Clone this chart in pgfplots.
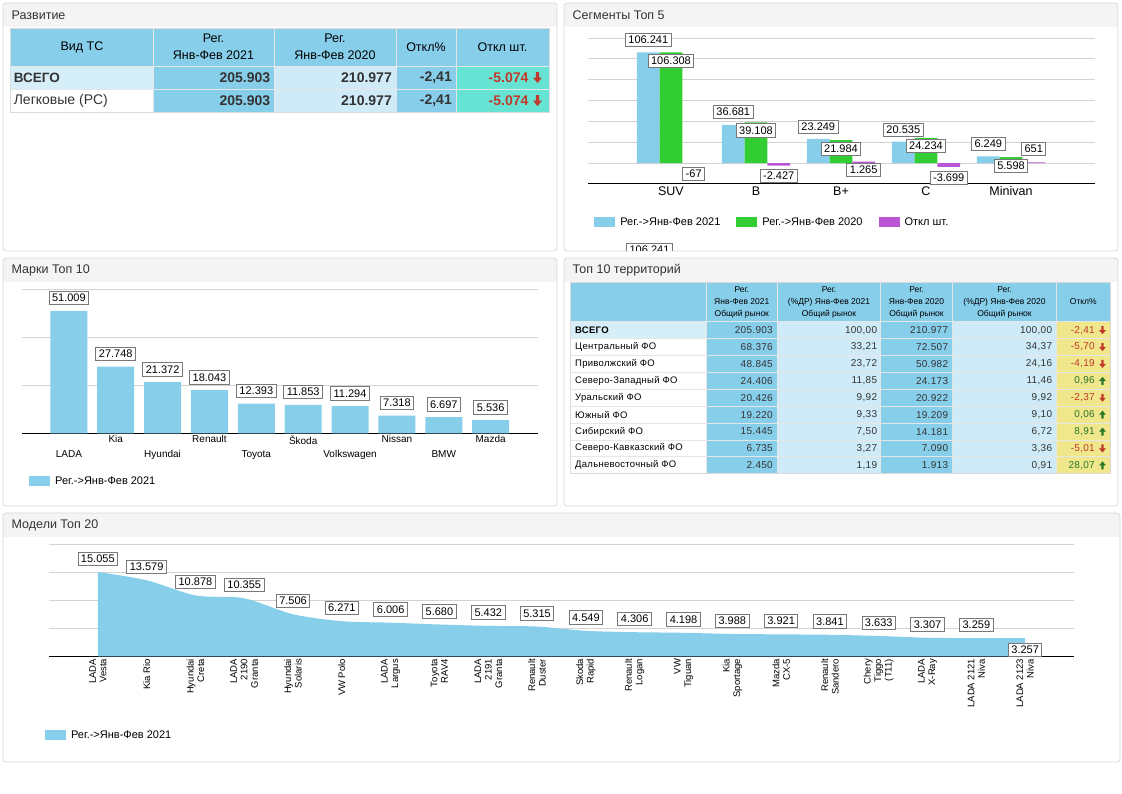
\documentclass[border=0pt]{standalone}
\usepackage{fontspec}
\setmainfont{Liberation Sans}
\newfontfamily\tblfont[LetterSpace=3]{Liberation Sans}
\usepackage{pgfplots}
\pgfplotsset{compat=1.18}

\definecolor{skyb}{RGB}{135,206,235}
\definecolor{limeg}{RGB}{50,205,50}
\definecolor{orch}{RGB}{186,85,211}
\definecolor{lightb}{RGB}{206,235,247}
\definecolor{paleb}{RGB}{214,238,248}
\definecolor{turq}{RGB}{102,227,211}
\definecolor{khak}{RGB}{240,230,140}
\definecolor{panelline}{RGB}{218,218,218}
\definecolor{headgray}{RGB}{244,244,244}
\definecolor{gridg}{RGB}{211,211,211}
\definecolor{sepl}{RGB}{230,230,230}
\definecolor{negred}{RGB}{192,57,43}
\definecolor{posgreen}{RGB}{40,120,40}
\definecolor{lblgray}{RGB}{120,120,120}
\definecolor{txt}{RGB}{51,51,51}

\newcommand\fs[2]{\fontsize{#1}{#2}\selectfont}

\tikzset{
  lbl/.style={draw=lblgray, line width=0.9pt, fill=white, inner xsep=3pt, inner ysep=0pt,
    minimum height=13.5pt, text=black, font=\fs{11}{12}},
  dn/.pic={\fill (-1.4,5)--(1.4,5)--(1.4,0)--(4.2,0)--(0,-5)--(-4.2,0)--(-1.4,0)--cycle;},
  up/.pic={\fill (-1.4,-5)--(1.4,-5)--(1.4,0)--(4.2,0)--(0,5)--(-4.2,0)--(-1.4,0)--cycle;},
}

\pgfplotsset{
  dash/.style={scale only axis, anchor=south west, clip=false,
    axis x line=bottom, axis y line=left, scaled y ticks=false,
    x axis line style={-, black, line width=0.8pt}, y axis line style={draw=none},
    major tick length=0pt, yticklabels={}, ymajorgrids, grid style={gridg, line width=0.7pt},
    /pgf/number format/fixed, /pgf/number format/precision=0, /pgf/number format/1000 sep={.},
    /pgf/number format/assume math mode=true,
    legend style={draw=none, fill=none, inner sep=0pt, font=\fs{11}{13}, anchor=west,
      legend columns=-1, /tikz/every odd column/.append style={column sep=3pt},
      /tikz/every even column/.append style={column sep=14pt}},
    legend cell align=left},
  sq/.style={legend image code/.code={\fill[##1, draw=none] (0pt,-5pt) rectangle (21pt,5pt);}},
}

\newcommand\panel[5]{%
  \begin{scope}
    \clip[rounded corners=3pt] (#1,-#2) rectangle (#3,-#4);
    \fill[white] (#1,-#2) rectangle (#3,-#4);
    \fill[headgray] (#1,-#2) rectangle (#3,-#2-24);
  \end{scope}
  \draw[panelline, rounded corners=3pt, line width=0.8pt] (#1,-#2) rectangle (#3,-#4);
  \node[anchor=west, text=txt, font=\fs{12.5}{14}, inner sep=0pt] at (#1+8.5,-#2-12) {#5};
}

\begin{document}
\begin{tikzpicture}[x=1pt, y=1pt]
\fill[white] (0,0) rectangle (1122,-793);
\path[use as bounding box] (0,0) rectangle (1122,-793);

\panel{3}{3}{557}{251}{Развитие}
\panel{564}{3}{1118}{251}{Сегменты Топ 5}
\panel{3}{258}{557}{506}{Марки Топ 10}
\panel{564}{258}{1118}{506}{Топ 10 территорий}
\panel{3}{513}{1120}{762}{Модели Топ 20}

% ---- Развитие table
\fill[skyb] (10.7,-28) rectangle (549,-66);
\fill[paleb] (10.7,-66) rectangle (153,-89);
\fill[skyb] (153,-66) rectangle (274,-112);
\fill[lightb] (274,-66) rectangle (396,-112);
\fill[skyb] (396,-66) rectangle (456,-112);
\fill[turq] (456,-66) rectangle (549,-112);
\draw[sepl, line width=0.9pt] (153,-28)--(153,-112) (274,-28)--(274,-112) (396,-28)--(396,-112)
  (456,-28)--(456,-112) (10.7,-66)--(549,-66) (10.7,-89)--(549,-89);
\draw[panelline, line width=0.8pt] (10.7,-28) rectangle (549,-112);
\begin{scope}[every node/.style={inner sep=0pt, text=black, font=\fs{12.5}{16.7}, align=center}]
\node at (82,-47) {Вид ТС};
\node at (213.5,-47) {Рег.\\Янв-Фев 2021};
\node at (335,-47) {Рег.\\Янв-Фев 2020};
\node at (426,-47) {Откл\%};
\node at (502.5,-47) {Откл шт.};
\end{scope}
\node[anchor=west, inner sep=0pt, font=\bfseries\fs{13.5}{15}, text=txt] at (13.6,-77.5) {ВСЕГО};
\node[anchor=west, inner sep=0pt, font=\fs{14}{16}, text=txt] at (13.6,-100.5) {Легковые (PC)};
\foreach \yy in {-77.5,-100.5}{
  \begin{scope}[every node/.style={anchor=east, inner sep=0pt, font=\bfseries\fs{14}{16}, text=txt}]
  \node at (270.4,\yy) {205.903};
  \node at (392,\yy) {210.977};
  \node at (452,\yy) {-2,41};
  \node[text=negred] at (528.6,\yy) {-5.074};
  \end{scope}
  \pic[color=negred, scale=1.1] at (537.5,\yy) {dn};
}

% ---- Сегменты Топ 5
\begin{axis}[dash, at={(588pt,-183pt)}, width=507pt, height=145pt,
  xmin=-0.976, xmax=4.988, ymin=-19200, ymax=120000,
  ytick={0,20000,...,120000},
  xtick={0,...,4}, xticklabels={SUV,B,B+,C,Minivan},
  xticklabel style={font=\fs{12.5}{14}, text=black},
  legend style={at={(0.012,-0.269)}}]
\addplot[ybar, bar width=22.7pt, bar shift=-22.7pt, fill=skyb, draw=none, sq]
  coordinates {(0,106241) (1,36681) (2,23249) (3,20535) (4,6249)};
\addlegendentry{Рег.->Янв-Фев 2021}
\addplot[ybar, bar width=22.7pt, bar shift=0pt, fill=limeg, draw=none, sq]
  coordinates {(0,106308) (1,39108) (2,21984) (3,24234) (4,5598)};
\addlegendentry{Рег.->Янв-Фев 2020}
\addplot[ybar, bar width=22.7pt, bar shift=22.7pt, fill=orch, draw=none, sq]
  coordinates {(0,-67) (1,-2427) (2,1265) (3,-3699) (4,651)};
\addlegendentry{Откл шт.}
\node[lbl] at (axis cs:-0.267,118080) {106.241};
\node[lbl] at (axis cs:0,97920) {106.308};
\node[lbl] at (axis cs:0.267,-10560) {-67};
\node[lbl] at (axis cs:0.733,48960) {36.681};
\node[lbl] at (axis cs:1,31200) {39.108};
\node[lbl] at (axis cs:1.267,-12480) {-2.427};
\node[lbl] at (axis cs:1.733,34560) {23.249};
\node[lbl] at (axis cs:2,13440) {21.984};
\node[lbl] at (axis cs:2.267,-6720) {1.265};
\node[lbl] at (axis cs:2.733,31970) {20.535};
\node[lbl] at (axis cs:3,16320) {24.234};
\node[lbl] at (axis cs:3.267,-14400) {-3.699};
\node[lbl] at (axis cs:3.733,18240) {6.249};
\node[lbl] at (axis cs:4,-2880) {5.598};
\node[lbl] at (axis cs:4.267,13440) {651};
\end{axis}
\begin{scope}
\clip (564,-243) rectangle (1118,-250.3);
\node[lbl] at (649.5,-249.7) {106.241};
\end{scope}

% ---- Марки Топ 10
\begin{axis}[dash, at={(22pt,-433.3pt)}, width=515.5pt, height=144pt,
  xmin=-1, xmax=10, ymin=0, ymax=60000, ytick={0,20000,40000,60000},
  xtick={1,3,5,7,9}, xticklabels={Kia,Renault,Škoda,Nissan,Mazda},
  extra x ticks={0,2,4,6,8}, extra x tick labels={LADA,Hyundai,Toyota,Volkswagen,BMW},
  extra x tick style={major tick length=0pt, xticklabel style={yshift=-15pt}},
  xticklabel style={font=\fs{10}{12}, inner sep=2pt, text=black},
  legend style={at={(0.0136,-0.331)}},
  nodes near coords, every node near coord/.append style={lbl, anchor=south, yshift=5.5pt}]
\addplot[ybar, bar width=37pt, fill=skyb, draw=none, sq]
  coordinates {(0,51009) (1,27748) (2,21372) (3,18043) (4,12393) (5,11853) (6,11294) (7,7318) (8,6697) (9,5536)};
\addlegendentry{Рег.->Янв-Фев 2021}
\end{axis}

% ---- Топ 10 территорий
\fill[skyb] (570,-282.7) rectangle (1110,-321.7);
\fill[paleb] (570,-321.7) rectangle (706.3,-338.6);
\fill[skyb] (706.3,-321.7) rectangle (777.3,-473.8);
\fill[lightb] (777.3,-321.7) rectangle (880.7,-473.8);
\fill[skyb] (880.7,-321.7) rectangle (952.3,-473.8);
\fill[lightb] (952.3,-321.7) rectangle (1056.7,-473.8);
\fill[khak] (1056.7,-321.7) rectangle (1110,-473.8);
\foreach \k in {1,...,8}{
  \draw[sepl, line width=0.9pt] (570,{-321.7-16.9*\k})--(1110,{-321.7-16.9*\k});
}
\draw[sepl, line width=0.9pt] (570,-321.7)--(1110,-321.7);
\foreach \xx in {706.3,777.3,880.7,952.3,1056.7}{
  \draw[sepl, line width=0.9pt] (\xx,-282.7)--(\xx,-473.8);
}
\draw[panelline, line width=0.8pt] (570,-282.7) rectangle (1110,-473.8);
\foreach \x/\t in {741.8/{Рег.\\Янв-Фев 2021\\Общий рынок}, 829/{Рег.\\(\%ДР) Янв-Фев 2021\\Общий рынок},
  916.5/{Рег.\\Янв-Фев 2020\\Общий рынок}, 1004.5/{Рег.\\(\%ДР) Янв-Фев 2020\\Общий рынок}, 1083.3/{Откл\%}}
  \node[font=\fs{8.5}{12}, align=center, inner sep=0pt, text=black] at (\x,-302) {\t};
\foreach \n/\a/\b/\c/\d/\e/\s [count=\k from 0] in {
  ВСЕГО/205.903/{100,00}/210.977/{100,00}/{-2,41}/d,
  Центральный ФО/68.376/{33,21}/72.507/{34,37}/{-5,70}/d,
  Приволжский ФО/48.845/{23,72}/50.982/{24,16}/{-4,19}/d,
  Северо-Западный ФО/24.406/{11,85}/24.173/{11,46}/{0,96}/u,
  Уральский ФО/20.426/{9,92}/20.922/{9,92}/{-2,37}/d,
  Южный ФО/19.220/{9,33}/19.209/{9,10}/{0,06}/u,
  Сибирский ФО/15.445/{7,50}/14.181/{6,72}/{8,91}/u,
  Северо-Кавказский ФО/6.735/{3,27}/7.090/{3,36}/{-5,01}/d,
  Дальневосточный ФО/2.450/{1,19}/1.913/{0,91}/{28,07}/u}{
  \pgfmathsetmacro\yc{-(330.15+16.9*\k)}
  \node[anchor=west, inner sep=0pt, font=\tblfont\fs{9.5}{11}, text=black] at (575,\yc) {\ifnum\k=0 \bfseries\fi\n};
  \begin{scope}[every node/.style={anchor=east, inner sep=0pt, font=\tblfont\fs{10}{11}, text=txt}]
  \node at (773,\yc) {\a};
  \node at (877.3,\yc) {\b};
  \node at (948.3,\yc) {\c};
  \node at (1052.3,\yc) {\d};
  \end{scope}
  \if\s d
    \node[anchor=east, inner sep=0pt, font=\tblfont\fs{10}{11}, text=negred] at (1095,\yc) {\e};
    \pic[color=negred, scale=0.8] at (1102.5,\yc) {dn};
  \else
    \node[anchor=east, inner sep=0pt, font=\tblfont\fs{10}{11}, text=posgreen] at (1095,\yc) {\e};
    \pic[color=posgreen, scale=0.8] at (1102.5,\yc) {up};
  \fi
}

% ---- Модели Топ 20
\begin{axis}[dash, at={(49pt,-656.3pt)}, width=1025pt, height=112pt,
  xmin=-1, xmax=20, ymin=0, ymax=20000, ytick={0,5000,...,20000},
  xtick={0,...,19},
  xticklabels={{LADA\\Vesta},{Kia Rio},{Hyundai\\Creta},{LADA\\2190\\Granta},{Hyundai\\Solaris},
    {VW Polo},{LADA\\Largus},{Toyota\\RAV4},{LADA\\2191\\Granta},{Renault\\Duster},
    {Skoda\\Rapid},{Renault\\Logan},{VW\\Tiguan},{Kia\\Sportage},{Mazda\\CX-5},
    {Renault\\Sandero},{Chery\\Tiggo\\(T11)},{LADA\\X-Ray},{LADA 2121\\Niva},{LADA 2123\\Niva}},
  xticklabel style={rotate=90, anchor=east, align=right, font=\fs{9.5}{10.5}, inner sep=2.5pt, text=black},
  legend style={at={(-0.004,-0.707)}}]
\addplot[fill=skyb, draw=none, smooth, sq] coordinates {
  (0,15055) (1,13579) (2,10878) (3,10355) (4,7506) (5,6271) (6,6006) (7,5680) (8,5432) (9,5315)
  (10,4549) (11,4306) (12,4198) (13,3988) (14,3921) (15,3841) (16,3633) (17,3307) (18,3259) (19,3257)} \closedcycle;
\addlegendentry{Рег.->Янв-Фев 2021}
\addplot[draw=none, forget plot, nodes near coords,
  every node near coord/.append style={lbl, anchor=south, yshift=6pt}] coordinates {
  (0,15055) (1,13579) (2,10878) (3,10355) (4,7506) (5,6271) (6,6006) (7,5680) (8,5432) (9,5315)
  (10,4549) (11,4306) (12,4198) (13,3988) (14,3921) (15,3841) (16,3633) (17,3307) (18,3259)};
\addplot[draw=none, forget plot, nodes near coords,
  every node near coord/.append style={lbl, anchor=north, yshift=-4.5pt}] coordinates {(19,3257)};
\end{axis}
\end{tikzpicture}
\end{document}
